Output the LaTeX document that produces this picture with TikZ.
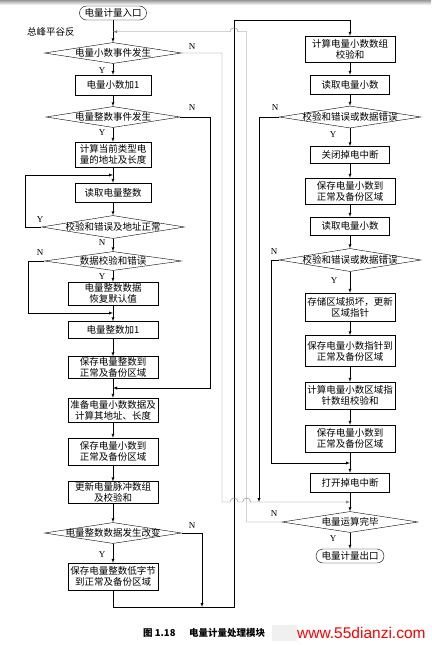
\documentclass[tikz,border=0pt]{standalone}
\usepackage{fontspec}
\setmainfont{Liberation Serif}
\newfontfamily\cjk{Noto Sans CJK SC}
\newfontfamily\wmfont{Liberation Sans}
\usepackage{tikz}
\usetikzlibrary{shapes.geometric, positioning}

\tikzset{
  box/.style={draw, rectangle, align=center, inner sep=1pt, minimum width=90pt,
    minimum height=19pt, font=\cjk\fontsize{9.5}{11}\selectfont},
  sbox/.style={box, minimum width=78pt},
  term/.style={box, rounded corners=7pt, minimum width=67pt, minimum height=14pt},
  dec/.style={draw, diamond, inner sep=0pt, minimum width=137pt, minimum height=21pt,
    label={[font=\cjk\fontsize{9.5}{11}\selectfont]center:#1}},
  yn/.style={font=\fontsize{9}{9}\selectfont, inner sep=0pt},
  back/.style={draw=gray}
}

\begin{document}
\begin{tikzpicture}[>=latex, x=1pt, y=-1pt]
    \useasboundingbox (0,0) rectangle (431,645);
    \fill[top color=gray!80, bottom color=white] (0,0) rectangle (431,5);

    % Cột trái
    \node[term] (start) at (113,13) {电量计量入口};
    \node[font=\cjk\fontsize{9.5}{11}\selectfont, anchor=west, inner sep=0pt] (note) at (27,32) {总峰平谷反};
    \node[dec=电量小数事件发生] (dfrac) at (113,53) {};
    \node[sbox, minimum width=76pt, minimum height=20pt] (incf) at (113,85) {电量小数加1};
    \node[dec=电量整数事件发生, minimum width=134pt] (dint) at (113,117) {};
    \node[sbox, minimum width=76pt, minimum height=25pt] (addr) at (113,154.5) {计算当前类型电\\量的地址及长度};
    \node[sbox, minimum width=76pt] (rdint) at (113,192.5) {读取电量整数};
    \node[dec=校验和错误及地址正常, minimum width=143pt, minimum height=23pt] (dchk1) at (113,227) {};
    \node[dec=数据校验和错误, minimum height=19pt] (dchk2) at (113,261) {};
    \node[box, minimum height=23pt] (dflt) at (113,293.5) {电量整数数据\\恢复默认值};
    \node[box, minimum height=17pt] (incint) at (113,330) {电量整数加1};
    \node[box, minimum height=22pt] (svint) at (113,367.5) {保存电量整数到\\正常及备份区域};
    \node[box, minimum height=24pt] (prep) at (113,410) {准备电量小数数据及\\计算其地址、长度};
    \node[box, minimum height=27pt] (svfrac) at (113,451.5) {保存电量小数到\\正常及备份区域};
    \node[box, minimum height=21pt] (upd) at (113,492.5) {更新电量脉冲数组\\及校验和};
    \node[dec=电量整数数据发生改变] (dchg) at (113,533) {};
    \node[box, minimum height=27pt] (svlow) at (113,576.5) {保存电量整数低字节\\到正常及备份区域};

    % Cột phải
    \node[box, minimum height=26pt] (csum) at (350,49) {计算电量小数数组\\校验和};
    \node[sbox, minimum width=79pt] (rdf1) at (350,84.5) {读取电量小数};
    \node[dec=校验和错误或数据错误, minimum width=142pt, minimum height=22pt] (dchk3) at (350,117) {};
    \node[sbox, minimum width=79pt, minimum height=17pt] (offint) at (350,155) {关闭掉电中断};
    \node[box, minimum height=26pt] (svf1) at (350,191) {保存电量小数到\\正常及备份区域};
    \node[sbox, minimum width=79pt, minimum height=18pt] (rdf2) at (350,226) {读取电量小数};
    \node[dec=校验和错误或数据错误, minimum width=142pt, minimum height=23pt] (dchk4) at (350,260) {};
    \node[box, minimum height=28pt] (bad) at (350,307) {存储区域损坏，更新\\区域指针};
    \node[box, minimum height=31pt] (svptr) at (350,351) {保存电量小数指针到\\正常及备份区域};
    \node[box, minimum height=27pt] (psum) at (350,395.5) {计算电量小数区域指\\针数组校验和};
    \node[box, minimum height=27pt] (svf2) at (350,438.5) {保存电量小数到\\正常及备份区域};
    \node[sbox, minimum width=79pt] (onint) at (350,482.5) {打开掉电中断};
    \node[dec=电量运算完毕, minimum width=136pt] (dend) at (350,522) {};
    \node[term, minimum width=68pt] (stop) at (350,556) {电量计量出口};

    % Điểm nối
    \coordinate (j1) at (113,31.7);
    \coordinate (j2) at (113,175);
    \coordinate (j3) at (113,313);
    \coordinate (j4) at (113,388);
    \coordinate (j5) at (202,607);
    \coordinate (b1) at (234,607);
    \coordinate (b2) at (234,20);
    \coordinate (c1) at (222,502);
    \coordinate (j8) at (350,502);
    \coordinate (j9) at (259,502);
    \coordinate (j10) at (350,463);
    \coordinate (c2) at (246.7,31.7);

    % Đường chính
    \draw[->] (start) -- (dfrac);
    \draw[->] (dfrac) -- (incf);
    \draw[->] (incf) -- (dint);
    \draw[->] (dint) -- (addr);
    \draw[->] (addr) -- (rdint);
    \draw[->] (rdint) -- (dchk1);
    \draw[->] (dchk1) -- (dchk2);
    \draw[->] (dchk2) -- (dflt);
    \draw[->] (dflt) -- (incint);
    \draw[->] (incint) -- (svint);
    \draw[->] (svint) -- (prep);
    \draw[->] (prep) -- (svfrac);
    \draw[->] (svfrac) -- (upd);
    \draw[->] (upd) -- (dchg);
    \draw[->] (dchg) -- (svlow);
    \draw[->] (csum) -- (rdf1);
    \draw[->] (rdf1) -- (dchk3);
    \draw[->] (dchk3) -- (offint);
    \draw[->] (offint) -- (svf1);
    \draw[->] (svf1) -- (rdf2);
    \draw[->] (rdf2) -- (dchk4);
    \draw[->] (dchk4) -- (bad);
    \draw[->] (bad) -- (svptr);
    \draw[->] (svptr) -- (psum);
    \draw[->] (psum) -- (svf2);
    \draw[->] (svf2) -- (onint);
    \draw[->] (onint) -- (dend);
    \draw[->] (dend) -- (stop);

    % Nhánh vòng
    \draw[->] (dchk1.west) -- ++(-16.5,0) |- (j2);
    \draw[->] (dchk2.west) -- ++(-16,0) |- (j3);
    \draw[->] (dint.east) -- ++(30,0) |- (j4);
    \draw[->] (dchg.east) -| (j5);
    \draw[->] (svlow) |- (b1) -- (b2) -| (csum);
    \draw[->] (dchk3.west) -| (j9);
    \draw[->] (dchk4.west) -- ++(-8,0) |- (j10);
    \draw[->, back] (dfrac.east) -| (c1) -- ++(8,0) arc[start angle=180, end angle=0, radius=4pt]
        -- ++(4.7,0) arc[start angle=180, end angle=0, radius=4pt] -- (j8);
    \draw[->, back] (dend.west) -| (c2) -- ++(-8.7,0) arc[start angle=0, end angle=180, radius=4pt] -- (j1);

    % Nhãn Y/N
    \node[yn] (y1) at (102,71) {Y};
    \node[yn] (n1) at (192,47) {N};
    \node[yn] (y2) at (102,133) {Y};
    \node[yn] (n2) at (192,108) {N};
    \node[yn] (y3) at (40,220) {Y};
    \node[yn] (n3) at (102,243) {N};
    \node[yn] (n4) at (40,253) {N};
    \node[yn] (y4) at (102,277) {Y};
    \node[yn] (n5) at (192,526) {N};
    \node[yn] (y5) at (102,555) {Y};
    \node[yn] (n6) at (275,108) {N};
    \node[yn] (y6) at (333,135) {Y};
    \node[yn] (n7) at (274,252) {N};
    \node[yn] (y7) at (334,281) {Y};
    \node[yn] (n8) at (274,514) {N};
    \node[yn] (y8) at (333,539) {Y};

    % Chú thích
    \node[font=\cjk\bfseries\fontsize{9.5}{11}\selectfont, anchor=west, inner sep=0pt] (cap) at (143,633) {图 1.18};
    \node[font=\cjk\bfseries\fontsize{9.5}{11}\selectfont, anchor=west, inner sep=0pt] (capt) at (189,633) {电量计量处理模块};
    \fill[gray!12] (272,625) rectangle (297,641);
    \node[font=\wmfont\fontsize{15.5}{16}\selectfont, text=red, anchor=west, inner sep=0pt] (wm) at (297,633) {www.55dianzi.com};
\end{tikzpicture}
\end{document}
